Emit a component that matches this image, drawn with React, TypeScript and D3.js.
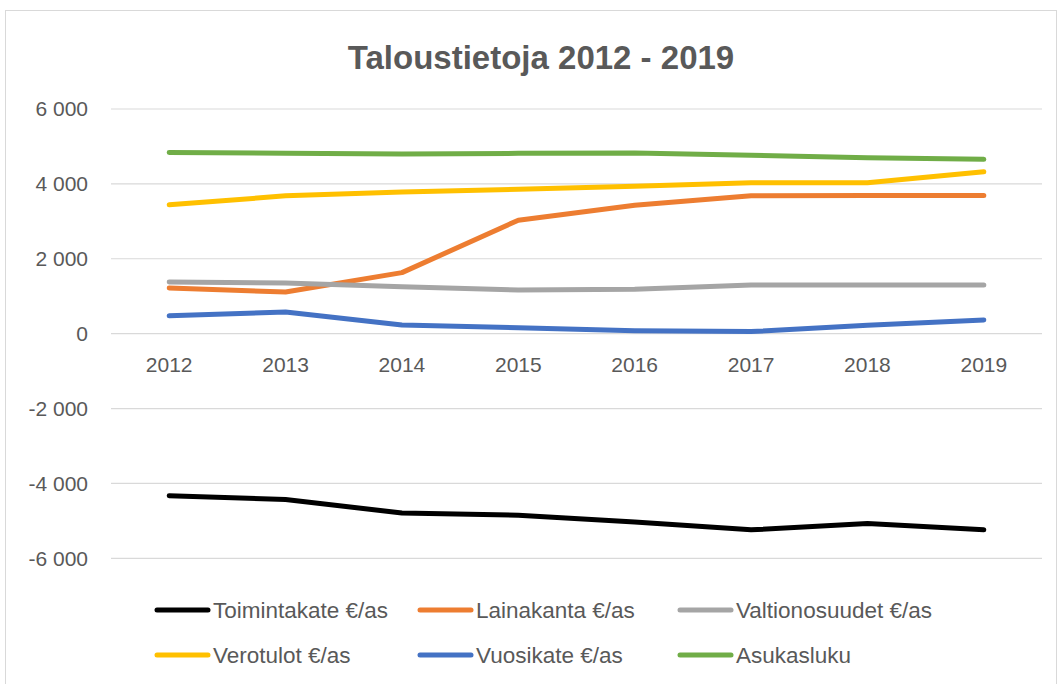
import React from "react";
import * as d3 from "d3";

const years = ["2012", "2013", "2014", "2015", "2016", "2017", "2018", "2019"];
const toimintakate = [-4330, -4430, -4790, -4850, -5030, -5240, -5070, -5240];
const lainakanta = [1220, 1110, 1630, 3030, 3430, 3685, 3690, 3690];
const valtionosuudet = [1380, 1355, 1255, 1167, 1185, 1300, 1300, 1300];
const verotulot = [3440, 3680, 3785, 3855, 3935, 4030, 4030, 4325];
const vuosikate = [475, 580, 232, 160, 80, 55, 224, 366];
const asukasluku = [4840, 4820, 4800, 4815, 4825, 4765, 4700, 4655];
const yTicks = [-6000, -4000, -2000, 0, 2000, 4000, 6000];

const series = [
  { name: "Toimintakate €/as", values: toimintakate, color: "#000000" },
  { name: "Lainakanta €/as", values: lainakanta, color: "#ED7D31" },
  { name: "Valtionosuudet €/as", values: valtionosuudet, color: "#A5A5A5" },
  { name: "Verotulot €/as", values: verotulot, color: "#FFC000" },
  { name: "Vuosikate €/as", values: vuosikate, color: "#4472C4" },
  { name: "Asukasluku", values: asukasluku, color: "#70AD47" },
];

const W = 1062;
const H = 684;
const FONT = "'Liberation Sans', Arial, sans-serif";
const TXT = "#595959";

export default function App() {
  const x = d3.scalePoint<string>().domain(years).range([111, 1042]).padding(0.5);
  const y = d3.scaleLinear().domain([-6000, 6000]).range([558.3, 109]);
  const line = d3
    .line<number>()
    .x((_, i) => x(years[i]) as number)
    .y((d) => y(d));
  const fmt = (v: number) => {
    const s = Math.abs(v).toString().replace(/\B(?=(\d{3})+(?!\d))/g, " ");
    return (v < 0 ? "-" : "") + s;
  };
  const legendCols = [155, 418, 678];
  const legendRows = [610, 655];

  return (
    <svg
      width={W}
      height={H}
      style={{ position: "absolute", left: 0, top: 0, background: "#fff" }}
      fontFamily={FONT}
    >
      <rect x={5.5} y={10.5} width={1051} height={700} fill="#fff" stroke="#D9D9D9" strokeWidth={1} />
      <text x={541} y={69} textAnchor="middle" fontSize={33} fontWeight="bold" fill={TXT}>
        Taloustietoja 2012 - 2019
      </text>
      {yTicks.map((t) => (
        <g key={t}>
          <line x1={111} x2={1042} y1={y(t)} y2={y(t)} stroke="#D9D9D9" strokeWidth={1.2} />
          <text x={88} y={y(t)} dy="0.35em" textAnchor="end" fontSize={21} fill={TXT}>
            {fmt(t)}
          </text>
        </g>
      ))}
      {years.map((yr) => (
        <text key={yr} x={x(yr)} y={365} dy="0.35em" textAnchor="middle" fontSize={21} fill={TXT}>
          {yr}
        </text>
      ))}
      {series.map((s) => (
        <path
          key={s.name}
          d={line(s.values) || ""}
          fill="none"
          stroke={s.color}
          strokeWidth={5}
          strokeLinecap="round"
          strokeLinejoin="round"
        />
      ))}
      {series.map((s, i) => {
        const cx = legendCols[i % 3];
        const cy = legendRows[Math.floor(i / 3)];
        return (
          <g key={s.name}>
            <line x1={cx + 2} x2={cx + 53} y1={cy} y2={cy} stroke={s.color} strokeWidth={5} strokeLinecap="round" />
            <text x={cx + 58} y={cy} dy="0.35em" fontSize={22.5} fill={TXT}>
              {s.name}
            </text>
          </g>
        );
      })}
    </svg>
  );
}
